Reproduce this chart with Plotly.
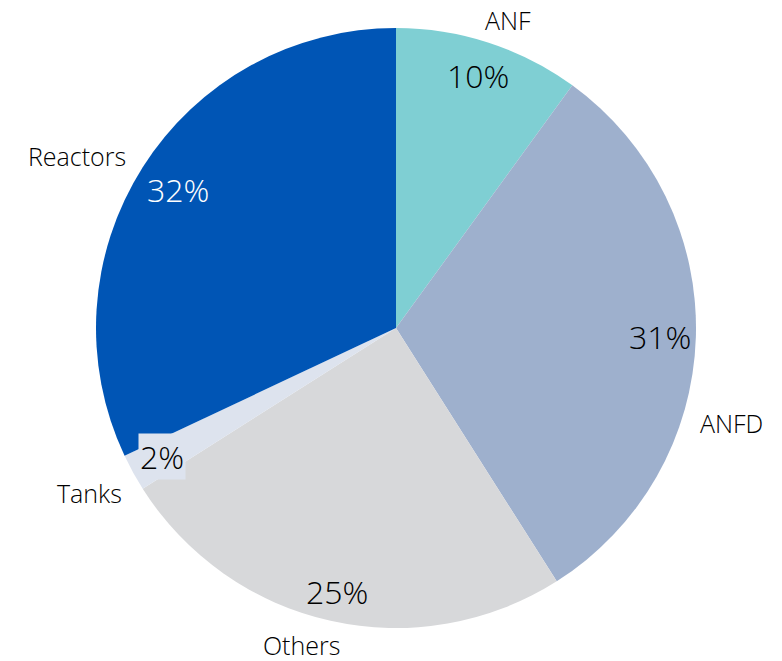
import math
import plotly.graph_objects as go

# ---- data ----
categories = ["ANF", "ANFD", "Others", "Tanks", "Reactors"]
values = [10, 31, 25, 2, 32]

# ---- style ----
colors = ["#7fcfd3", "#9eb0cd", "#d7d8da", "#dde3ee", "#0055b5"]
pct_font_colors = ["#000000", "#000000", "#000000", "#000000", "#ffffff"]
name_angle_offset = [2, 14, 4, 0.5, -4]      # degrees, label placement tweak
name_radius_factor = [1.093, 1.163, 1.103, 1.16, 1.207]
pct_radius_factor = [0.885, 0.88, 0.9, 0.89, 0.86]

W, H = 782, 661
cx_px, cy_px, R_px = 396, 328, 300

dom_x = [(cx_px - R_px) / W, (cx_px + R_px) / W]
dom_y = [(H - cy_px - R_px) / H, (H - cy_px + R_px) / H]

fig = go.Figure(go.Pie(
    labels=categories, values=values, sort=False, direction="clockwise",
    rotation=0, marker=dict(colors=colors, line=dict(width=0)),
    textinfo="none", hoverinfo="label+percent", showlegend=False,
    domain=dict(x=dom_x, y=dom_y),
))

total = sum(values)
cum = 0
font_family = "'Open Sans', Lato, sans-serif"
for i, (cat, v) in enumerate(zip(categories, values)):
    mid = (cum + v / 2) / total * 360
    cum += v
    # percentage label
    a = math.radians(mid)
    r = R_px * pct_radius_factor[i]
    px = cx_px + r * math.sin(a)
    py = cy_px - r * math.cos(a)
    ann = dict(x=px / W, y=1 - py / H, xref="paper", yref="paper",
               text=f"{round(v / total * 100)}%", showarrow=False,
               font=dict(size=32, color=pct_font_colors[i], family=font_family,
                         weight=300),
               xanchor="center", yanchor="middle")
    if cat == "Tanks":
        ann.update(bgcolor=colors[i], borderpad=1)
    fig.add_annotation(**ann)
    # category label
    a2 = math.radians(mid + name_angle_offset[i])
    r2 = R_px * name_radius_factor[i]
    qx = cx_px + r2 * math.sin(a2)
    qy = cy_px - r2 * math.cos(a2)
    fig.add_annotation(x=qx / W, y=1 - qy / H, xref="paper", yref="paper",
                       text=cat, showarrow=False,
                       font=dict(size=25, color="#000000", family=font_family,
                                 weight=300),
                       xanchor="center", yanchor="middle")

fig.update_layout(width=W, height=H, margin=dict(l=0, r=0, t=0, b=0),
                  paper_bgcolor="white", plot_bgcolor="white")
fig.write_html("out.html", config={"displayModeBar": False},
               post_script="document.body.style.margin='0';"
                           "document.body.style.overflow='hidden';")
